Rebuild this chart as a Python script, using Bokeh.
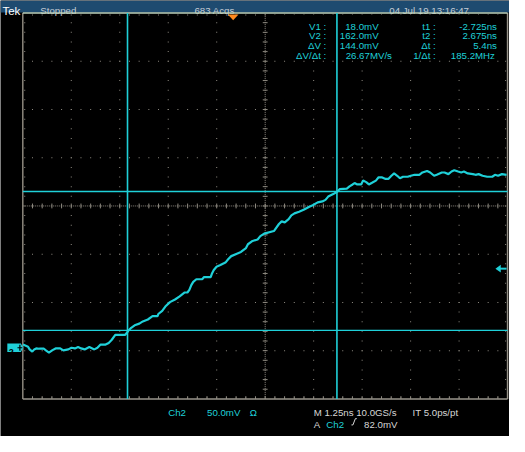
from bokeh.plotting import figure
from bokeh.models import Range1d
from bokeh.core.properties import value
from bokeh.embed import file_html
from bokeh.resources import INLINE

# ---------------- data (ns, mV) ----------------
time_ns = [
    -5.42, -5.29, -5.25, -5.18, -5.13, -5.08, -5.00, -4.88, -4.83, -4.75,
    -4.67, -4.58, -4.46, -4.38, -4.25, -4.17, -4.08, -4.00, -3.92, -3.83,
    -3.71, -3.58, -3.50, -3.42, -3.29, -3.21, -3.13, -3.04, -2.88, -2.79,
    -2.75, -2.71, -2.63, -2.54, -2.42, -2.33, -2.20, -2.08, -1.95, -1.93,
    -1.83, -1.75, -1.63, -1.50, -1.38, -1.25, -1.18, -1.13, -1.08, -1.03,
    -0.95, -0.80, -0.75, -0.58, -0.55, -0.50, -0.43, -0.33, -0.20, -0.13,
    -0.05, 0.08, 0.20, 0.33, 0.38, 0.50, 0.63, 0.70, 0.80, 1.05,
    1.18, 1.25, 1.33, 1.43, 1.50, 1.58, 1.70, 1.83, 1.95, 2.05,
    2.18, 2.30, 2.38, 2.45, 2.58, 2.68, 2.75, 2.93, 3.00, 3.08,
    3.13, 3.20, 3.30, 3.35, 3.43, 3.50, 3.58, 3.68, 3.75, 3.83,
    3.93, 4.00, 4.08, 4.15, 4.23, 4.30, 4.38, 4.50, 4.58, 4.68,
    4.80, 4.88, 5.00, 5.08, 5.18, 5.25, 5.38, 5.45, 5.55, 5.63,
    5.70, 5.80, 5.88, 5.95, 6.05, 6.18, 6.25, 6.33, 6.43, 6.55,
    6.68, 6.75, 6.83, 6.93, 7.05,
]
ch2_mV = [
    3.3, 1.0, -1.7, -4.0, -1.7, -0.7, -1.0, -1.0, -2.7, -5.0,
    -2.7, -0.7, -0.7, -2.7, -1.7, 0.0, -0.7, 0.7, -0.7, -1.7,
    0.7, -1.7, 0.0, 3.3, 3.3, 5.0, 8.3, 13.3, 13.3, 13.3,
    15.0, 17.3, 20.7, 23.3, 25.0, 27.3, 29.3, 32.7, 32.7, 35.0,
    38.3, 42.7, 47.3, 50.0, 53.3, 57.3, 57.3, 60.0, 65.0, 68.3,
    71.0, 71.0, 73.3, 73.3, 76.7, 80.7, 84.0, 85.7, 88.3, 91.7,
    95.0, 97.3, 99.3, 103.3, 107.3, 110.7, 112.3, 115.7, 118.3, 121.0,
    128.3, 131.0, 130.0, 133.3, 137.3, 139.3, 141.0, 143.3, 146.0, 147.7,
    150.7, 151.7, 153.3, 156.7, 159.3, 161.7, 164.5, 165.0, 167.3, 169.3,
    170.7, 169.3, 169.3, 173.3, 171.7, 169.3, 171.0, 173.3, 176.7, 176.7,
    175.0, 175.0, 178.3, 180.7, 178.3, 175.7, 177.3, 177.3, 178.3, 179.3,
    179.3, 181.7, 183.3, 181.7, 178.3, 179.3, 181.7, 181.7, 180.0, 182.7,
    184.0, 182.7, 181.7, 182.7, 180.7, 180.0, 179.3, 180.0, 178.3, 177.3,
    177.3, 179.3, 178.3, 180.0, 179.3,
]
n = min(len(time_ns), len(ch2_mV))
time_ns, ch2_mV = time_ns[:n], ch2_mV[:n]

t1_ns, t2_ns = -2.725, 2.675
v1_mV, v2_mV = 18.0, 162.0
trig_level_mV = 82.0
trig_time_ns = 0.0
ground_mV = 0.0

ns_per_div = 1.25
mV_per_div = 50.0
n_hdiv, n_vdiv = 10, 8
grat_left_ns = -5.425
grat_top_mV = 347.0

header_texts = ["Tek", "Stopped", "683 Acqs", "04 Jul 19 13:16:47"]
readout_labels_left = ["V1 :", "V2 :", "\u0394V :", "\u0394V/\u0394t :"]
readout_values_left = ["18.0mV", "162.0mV", "144.0mV", "26.67MV/s"]
readout_labels_right = ["t1 :", "t2 :", "\u0394t :", "1/\u0394t :"]
readout_values_right = ["-2.725ns", "2.675ns", "5.4ns", "185.2MHz"]

# ---------------- layout helpers ----------------
PXNS = 40.0                 # screen px per ns
X0 = trig_time_ns - 240 / PXNS
Y0 = ground_mV + 360


def X(px):
    return X0 + px / PXNS


def Y(py):
    return Y0 - py


W, H = 509, 436
FONT = value("Liberation Sans")
FS = value("9.7px")
CYAN = "#1fd0d8"
GRID = "#8e8a80"
TXT = "#d6d6d6"

p = figure(width=W, height=H, x_range=Range1d(X(0), X(525)),
           y_range=Range1d(Y(452), Y(0)), output_backend="svg",
           toolbar_location=None, min_border=0, x_axis_location=None,
           y_axis_location=None, background_fill_color="black",
           border_fill_color="black", outline_line_color=None)
p.grid.visible = False

GL = grat_left_ns
GR = GL + n_hdiv * ns_per_div
GT = grat_top_mV
GB = GT - n_vdiv * mV_per_div
CX = GL + n_hdiv / 2 * ns_per_div
CY = GT - n_vdiv / 2 * mV_per_div
mx = ns_per_div / 5
my = mV_per_div / 5

# header
p.quad(left=X(0), right=X(525), top=Y(0), bottom=Y(12.5), color="#1e4b70", line_color=None)
p.text(x=[X(2)], y=[Y(11)], text=[header_texts[0]], text_color="white",
       text_font=FONT, text_font_size=value("11.5px"), text_baseline="alphabetic")
p.text(x=[X(41), X(200), X(401)], y=[Y(10.5)] * 3, text=header_texts[1:],
       text_color="#c4ccd4", text_font=FONT, text_font_size=FS, text_baseline="alphabetic")

# grid dots
dx, dy = [], []
for i in range(1, n_hdiv):
    if i == n_hdiv // 2:
        continue
    for j in range(1, n_vdiv * 5):
        dx.append(GL + i * ns_per_div)
        dy.append(GT - j * my)
for j in range(1, n_vdiv):
    if j == n_vdiv // 2:
        continue
    for i in range(1, n_hdiv * 5):
        dx.append(GL + i * mx)
        dy.append(GT - j * mV_per_div)
for i in range(1, n_hdiv * 5):
    dx += [GL + i * mx, GL + i * mx]
    dy += [GT - 2, GB + 2]
for j in range(1, n_vdiv * 5):
    dx += [GL + 2 / PXNS, GR - 2 / PXNS]
    dy += [GT - j * my, GT - j * my]
p.rect(x=dx, y=dy, width=1, height=1, width_units="screen", height_units="screen",
       fill_color=GRID, line_color=None)

# center axes with ticks
p.line([GL, GR], [CY, CY], line_color=GRID, line_width=1, line_dash="1 1")
p.line([CX, CX], [GB, GT], line_color=GRID, line_width=1, line_dash="1 1")
tx0, ty0, tx1, ty1 = [], [], [], []
for i in range(1, n_hdiv * 5):
    x = GL + i * mx
    tx0.append(x); tx1.append(x); ty0.append(CY - 2.5); ty1.append(CY + 2.5)
    tx0.append(x); tx1.append(x); ty0.append(GB); ty1.append(GB + 2.5)
for j in range(1, n_vdiv * 5):
    y = GT - j * my
    tx0.append(CX - 2.5 / PXNS); tx1.append(CX + 2.5 / PXNS); ty0.append(y); ty1.append(y)
p.segment(x0=tx0, y0=ty0, x1=tx1, y1=ty1, line_color=GRID, line_width=1)

# readout box
p.quad(left=X(280), right=X(522), top=Y(15), bottom=Y(61), color="black", line_color=None)

# border
p.line([GL, GL], [GB, GT], line_color="#8c877c", line_width=1.5)
p.line([GR, GR], [GB, GT], line_color="#9a968c", line_width=1.5)
p.line([GL, GR], [GB, GB], line_color="#9a968c", line_width=1.5)
p.line([GL, GR], [GT, GT], line_color="#bcd2bc", line_width=1.5)

# cursors
p.segment(x0=[t1_ns, t2_ns], y0=[GB, GB], x1=[t1_ns, t2_ns], y1=[GT, GT],
          line_color=CYAN, line_width=1.6)
p.segment(x0=[GL, GL], y0=[v1_mV, v2_mV], x1=[GR, GR], y1=[v1_mV, v2_mV],
          line_color=CYAN, line_width=1.3)

# waveform
p.line(time_ns, ch2_mV, line_color=CYAN, line_width=2.2)

# trigger position marker
p.patch([trig_time_ns - 5.5 / PXNS, trig_time_ns + 5.5 / PXNS, trig_time_ns],
        [GT - 1.5, GT - 1.5, GT - 7.5], color="#ff8a1e", line_color=None)

# trigger level arrow (right)
p.line([GR - 8 / PXNS, GR - 1 / PXNS], [trig_level_mV, trig_level_mV], line_color=CYAN, line_width=2)
p.patch([GR - 12.5 / PXNS, GR - 7 / PXNS, GR - 7 / PXNS],
        [trig_level_mV, trig_level_mV + 4, trig_level_mV - 4], color=CYAN, line_color=None)

# ground marker (left)
p.patch([X(7), X(21), X(23.5), X(21), X(7)],
        [ground_mV + 4.5, ground_mV + 4.5, ground_mV, ground_mV - 4.5, ground_mV - 4.5],
        color=CYAN, line_color=None)
p.text(x=[X(8.5)], y=[ground_mV - 4], text=["2"], text_color="black", text_font=FONT,
       text_font_size=value("9px"), text_font_style="bold", text_baseline="alphabetic")
p.segment(x0=[X(17.5), X(20)], y0=[ground_mV, ground_mV + 3], x1=[X(22.5), X(20)],
          y1=[ground_mV, ground_mV - 3], line_color="black", line_width=1.2)

# readouts
rows = [Y(26.8), Y(36.8), Y(47), Y(57.5)]
p.text(x=[X(336)] * 4, y=rows, text=readout_labels_left, text_color=CYAN, text_font=FONT,
       text_font_size=FS, text_align="right", text_baseline="alphabetic")
p.text(x=[X(390)] * 3, y=rows[:3], text=readout_values_left[:3], text_color=CYAN, text_font=FONT,
       text_font_size=FS, text_align="right", text_baseline="alphabetic")
p.text(x=[X(356)], y=rows[3:], text=readout_values_left[3:], text_color=CYAN, text_font=FONT,
       text_font_size=FS, text_align="left", text_baseline="alphabetic")
p.text(x=[X(449)] * 4, y=rows, text=readout_labels_right, text_color=CYAN, text_font=FONT,
       text_font_size=FS, text_align="right", text_baseline="alphabetic")
p.text(x=[X(512), X(512), X(512), X(510)], y=rows, text=readout_values_right, text_color=CYAN,
       text_font=FONT, text_font_size=FS, text_align="right", text_baseline="alphabetic")

# bottom status
p.text(x=[X(173), X(213), X(257)], y=[Y(427.5)] * 3, text=["Ch2", "50.0mV", "\u03a9"],
       text_color=CYAN, text_font=FONT, text_font_size=FS, text_baseline="alphabetic")
p.text(x=[X(323), X(425)], y=[Y(427.5)] * 2, text=["M 1.25ns 10.0GS/s", "IT 5.0ps/pt"],
       text_color=TXT, text_font=FONT, text_font_size=FS, text_baseline="alphabetic")
p.text(x=[X(323), X(375)], y=[Y(440)] * 2, text=["A", "82.0mV"],
       text_color=TXT, text_font=FONT, text_font_size=FS, text_baseline="alphabetic")
p.text(x=[X(336)], y=[Y(440)], text=["Ch2"],
       text_color=CYAN, text_font=FONT, text_font_size=FS, text_baseline="alphabetic")
p.line([X(362), X(363.5), X(366), X(367.5)], [Y(440), Y(440), Y(433.5), Y(433.5)],
       line_color=TXT, line_width=1)

open("out.html", "w").write(file_html(p, INLINE))
